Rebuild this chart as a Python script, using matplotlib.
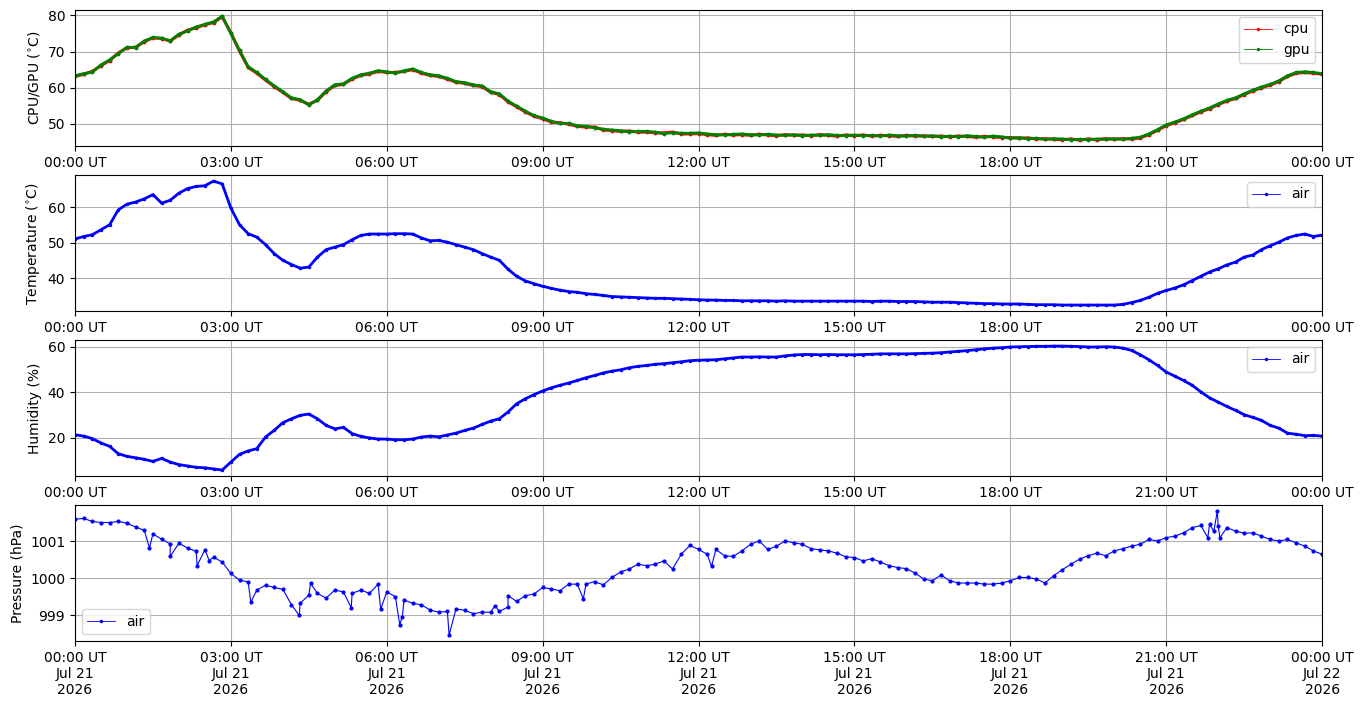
import numpy as np
import pandas as pd
import matplotlib
matplotlib.use("Agg")
import matplotlib.pyplot as plt
import matplotlib.dates as mdates
from matplotlib.lines import Line2D

# readings every 10 minutes, 21 Jul 2026 00:00 UT -> 22 Jul 00:00 UT
start = pd.Timestamp("2026-07-21 00:00")
step_min = 10

cpu = [63.1, 63.7, 64.5, 66.1, 67.5, 69.6,
       71.0, 71.2, 72.7, 73.8, 73.6, 72.9,
       74.6, 75.9, 76.6, 77.4, 78.0, 79.6,
       75.2, 70.1, 65.6, 64.0, 62.1, 60.3,
       58.7, 57.0, 56.5, 55.4, 56.5, 58.9,
       60.6, 60.9, 62.4, 63.4, 63.8, 64.5,
       64.2, 64.2, 64.5, 65.0, 64.0, 63.4,
       63.1, 62.4, 61.5, 61.2, 60.6, 60.3,
       58.7, 58.1, 56.1, 54.7, 53.3, 52.1,
       51.4, 50.5, 50.3, 49.9, 49.3, 49.1,
       49.1, 48.3, 48.1, 47.9, 48.0, 47.7,
       47.7, 47.5, 47.5, 47.7, 47.2, 47.2,
       47.3, 47.0, 46.8, 47.1, 46.9, 47.0,
       46.8, 47.1, 46.9, 46.7, 47.0, 46.8,
       46.9, 46.7, 47.0, 46.8, 46.6, 46.9,
       46.7, 46.9, 46.6, 46.8, 46.7, 46.5,
       46.8, 46.6, 46.7, 46.5, 46.6, 46.4,
       46.6, 46.5, 46.3, 46.5, 46.4, 46.2,
       46.2, 46.0, 46.1, 45.8, 45.9, 45.7,
       45.6, 45.8, 45.5, 45.8, 45.6, 45.9,
       45.7, 45.9, 45.8, 46.1, 47.0, 48.2,
       49.5, 50.3, 51.2, 52.3, 53.3, 54.2,
       55.3, 56.3, 57.0, 58.1, 59.1, 60.0,
       60.7, 61.7, 63.1, 64.0, 64.2, 64.0,
       63.7]

gpu = [63.3, 63.9, 64.3, 66.3, 67.7, 69.4,
       71.2, 71.1, 72.9, 73.9, 73.7, 73.0,
       74.8, 75.7, 76.8, 77.5, 78.2, 79.8,
       75.0, 70.3, 65.8, 64.2, 62.3, 60.5,
       58.9, 57.2, 56.7, 55.2, 56.7, 59.1,
       60.8, 61.1, 62.6, 63.6, 64.0, 64.7,
       64.4, 64.0, 64.7, 65.2, 64.2, 63.6,
       63.3, 62.6, 61.7, 61.4, 60.8, 60.5,
       58.9, 58.3, 56.3, 54.9, 53.5, 52.3,
       51.6, 50.7, 50.1, 50.1, 49.5, 49.3,
       48.9, 48.5, 48.3, 48.1, 47.8, 47.9,
       47.9, 47.7, 47.3, 47.5, 47.4, 47.4,
       47.5, 47.2, 47.0, 46.9, 47.1, 47.2,
       47.0, 46.9, 47.1, 46.9, 46.8, 47.0,
       46.7, 46.9, 46.8, 47.0, 46.8, 46.7,
       46.9, 46.7, 46.8, 46.6, 46.9, 46.7,
       46.6, 46.8, 46.5, 46.7, 46.4, 46.6,
       46.4, 46.7, 46.5, 46.3, 46.6, 46.4,
       46.0, 46.2, 45.9, 46.0, 45.7, 45.9,
       45.8, 45.6, 45.7, 45.6, 45.8, 45.7,
       45.9, 45.7, 46.0, 46.3, 47.2, 48.4,
       49.7, 50.5, 51.4, 52.5, 53.5, 54.4,
       55.5, 56.5, 57.2, 58.3, 59.3, 60.2,
       60.9, 61.9, 63.3, 64.2, 64.4, 64.2,
       63.9]

air_temp = [51.0, 51.7, 52.2, 53.6, 55.0, 59.2,
            60.8, 61.4, 62.3, 63.5, 61.1, 61.9,
            63.9, 65.2, 65.8, 66.0, 67.3, 66.5,
            59.7, 55.0, 52.5, 51.5, 49.4, 46.9,
            45.0, 43.8, 42.8, 43.1, 45.9, 48.0,
            48.7, 49.4, 50.8, 52.0, 52.4, 52.4,
            52.4, 52.5, 52.5, 52.4, 51.3, 50.5,
            50.6, 50.1, 49.4, 48.7, 48.0, 46.9,
            45.9, 45.0, 42.5, 40.5, 39.2, 38.4,
            37.7, 37.1, 36.6, 36.2, 36.0, 35.6,
            35.4, 35.1, 34.8, 34.7, 34.6, 34.5,
            34.4, 34.3, 34.3, 34.2, 34.1, 34.0,
            33.9, 33.8, 33.8, 33.7, 33.7, 33.6,
            33.6, 33.6, 33.6, 33.5, 33.6, 33.5,
            33.5, 33.5, 33.5, 33.5, 33.5, 33.5,
            33.5, 33.5, 33.4, 33.5, 33.5, 33.4,
            33.4, 33.4, 33.3, 33.2, 33.2, 33.2,
            33.1, 33.0, 32.9, 32.8, 32.8, 32.7,
            32.7, 32.7, 32.6, 32.5, 32.5, 32.5,
            32.4, 32.4, 32.4, 32.4, 32.4, 32.4,
            32.4, 32.6, 33.1, 33.7, 34.6, 35.7,
            36.5, 37.2, 38.1, 39.3, 40.5, 41.7,
            42.6, 43.7, 44.5, 45.9, 46.5, 48.0,
            49.1, 50.1, 51.3, 52.0, 52.4, 51.7,
            52.1]

humidity = [21.3, 20.7, 19.6, 17.7, 16.2, 13.0,
            11.8, 11.2, 10.5, 9.6, 10.9, 9.3,
            8.2, 7.6, 7.0, 6.8, 6.3, 5.8,
            9.3, 12.7, 14.2, 15.2, 20.3, 23.2,
            26.6, 28.3, 29.8, 30.4, 28.3, 25.4,
            23.9, 24.5, 21.8, 20.6, 19.9, 19.4,
            19.4, 19.1, 19.1, 19.4, 20.3, 20.7,
            20.4, 21.2, 22.0, 23.2, 24.2, 25.8,
            27.3, 28.3, 31.3, 34.9, 37.1, 38.9,
            40.5, 41.9, 43.0, 44.0, 45.1, 46.3,
            47.3, 48.4, 49.2, 49.8, 50.7, 51.3,
            51.7, 52.2, 52.5, 52.9, 53.3, 53.8,
            54.0, 54.1, 54.2, 54.6, 55.0, 55.4,
            55.4, 55.5, 55.4, 55.4, 55.9, 56.3,
            56.5, 56.5, 56.4, 56.5, 56.4, 56.4,
            56.4, 56.5, 56.6, 56.8, 56.8, 56.8,
            56.8, 56.9, 57.0, 57.1, 57.3, 57.6,
            57.9, 58.2, 58.6, 59.0, 59.3, 59.5,
            59.8, 59.9, 60.0, 60.1, 60.1, 60.2,
            60.2, 60.1, 60.0, 59.8, 59.8, 59.9,
            59.8, 59.3, 58.3, 56.4, 54.2, 51.7,
            48.8, 47.0, 45.1, 43.0, 40.1, 37.5,
            35.6, 33.7, 32.0, 30.1, 28.9, 27.6,
            25.4, 24.2, 22.0, 21.5, 20.9, 21.0,
            20.7]

pressure = [1001.60, 1001.62, 1001.54, 1001.51, 1001.51, 1001.54,
            1001.49, 1001.39, 1001.30, 1001.20, 1001.06, 1000.93,
            1000.95, 1000.82, 1000.73, 1000.77, 1000.57, 1000.44,
            1000.13, 999.95, 999.90, 999.68, 999.81, 999.75,
            999.70, 999.28, 999.32, 999.54, 999.59, 999.46,
            999.68, 999.63, 999.59, 999.68, 999.59, 999.84,
            999.63, 999.50, 999.41, 999.32, 999.28, 999.14,
            999.08, 999.10, 999.17, 999.13, 999.04, 999.08,
            999.08, 999.10, 999.22, 999.37, 999.53, 999.57,
            999.75, 999.71, 999.66, 999.84, 999.84, 999.84,
            999.91, 999.82, 1000.02, 1000.17, 1000.25, 1000.38,
            1000.34, 1000.38, 1000.47, 1000.25, 1000.65, 1000.89,
            1000.78, 1000.65, 1000.78, 1000.61, 1000.59, 1000.74,
            1000.92, 1001.01, 1000.78, 1000.87, 1001.01, 1000.96,
            1000.92, 1000.80, 1000.77, 1000.74, 1000.68, 1000.58,
            1000.56, 1000.47, 1000.53, 1000.44, 1000.34, 1000.29,
            1000.26, 1000.14, 999.98, 999.93, 1000.09, 999.93,
            999.87, 999.87, 999.87, 999.84, 999.84, 999.87,
            999.93, 1000.02, 1000.02, 999.98, 999.87, 1000.07,
            1000.23, 1000.38, 1000.52, 1000.61, 1000.68, 1000.61,
            1000.74, 1000.80, 1000.87, 1000.92, 1001.05, 1001.01,
            1001.10, 1001.14, 1001.23, 1001.37, 1001.43, 1001.46,
            1001.41, 1001.37, 1001.28, 1001.22, 1001.23, 1001.14,
            1001.05, 1001.01, 1001.05, 1000.96, 1000.87, 1000.74,
            1000.65]

# single odd pressure readings (minute of day, hPa)
spike_min = [86, 110, 141, 155, 203, 259, 272, 319, 353, 375, 378, 432,
             485, 500, 587, 735, 1308, 1315, 1319, 1322]
spike_hpa = [1000.82, 1000.59, 1000.34, 1000.48, 999.35, 998.99, 999.86,
             999.20, 999.16, 998.74, 998.96, 998.46, 999.26, 999.53,
             999.44, 1000.32, 1001.10, 1001.28, 1001.82, 1001.10]

t = start + pd.to_timedelta(np.arange(len(cpu)) * step_min, unit="min")

# merge spikes into the pressure series by time
p_min = list(np.arange(len(pressure)) * step_min) + spike_min
p_val = pressure + spike_hpa
order = np.argsort(p_min, kind="stable")
p_t = start + pd.to_timedelta(np.array(p_min)[order], unit="min")
p_v = np.array(p_val)[order]

fig, axes = plt.subplots(4, 1, figsize=(13.63, 7.07), dpi=100)
fig.subplots_adjust(left=0.055, right=0.97, top=0.986, bottom=0.093, hspace=0.21)

def handle(c):
    return Line2D([], [], color=c, lw=0.6, marker=".", ms=3)

ax = axes[0]
ax.plot(t, cpu, color="red", lw=2.2, marker=".", ms=3.5)
ax.plot(t, gpu, color="green", lw=2.0, marker=".", ms=3.5)
ax.set_ylabel(r"CPU/GPU ($^{\circ}$C)")
ax.legend([handle("red"), handle("green")], ["cpu", "gpu"], loc="upper right")

ax = axes[1]
ax.plot(t, air_temp, color="blue", lw=2.0, marker=".", ms=3)
ax.set_ylabel(r"Temperature ($^{\circ}$C)")
ax.legend([handle("blue")], ["air"], loc="upper right")

ax = axes[2]
ax.plot(t, humidity, color="blue", lw=2.0, marker=".", ms=3)
ax.set_ylabel("Humidity (%)")
ax.legend([handle("blue")], ["air"], loc="upper right")

ax = axes[3]
ax.plot(p_t, p_v, color="blue", lw=0.8, marker=".", ms=4)
ax.set_ylabel("Pressure (hPa)")
ax.legend([handle("blue")], ["air"], loc="lower left")

for i, ax in enumerate(axes):
    ax.set_xlim(start, start + pd.Timedelta(days=1))
    ax.xaxis.set_major_locator(mdates.HourLocator(byhour=range(0, 24, 3)))
    if i == 3:
        ax.xaxis.set_major_formatter(mdates.DateFormatter("%H:%M UT\n%b %d\n%Y"))
    else:
        ax.xaxis.set_major_formatter(mdates.DateFormatter("%H:%M UT"))
    ax.grid(True)

fig.savefig("out.png", dpi=100)
